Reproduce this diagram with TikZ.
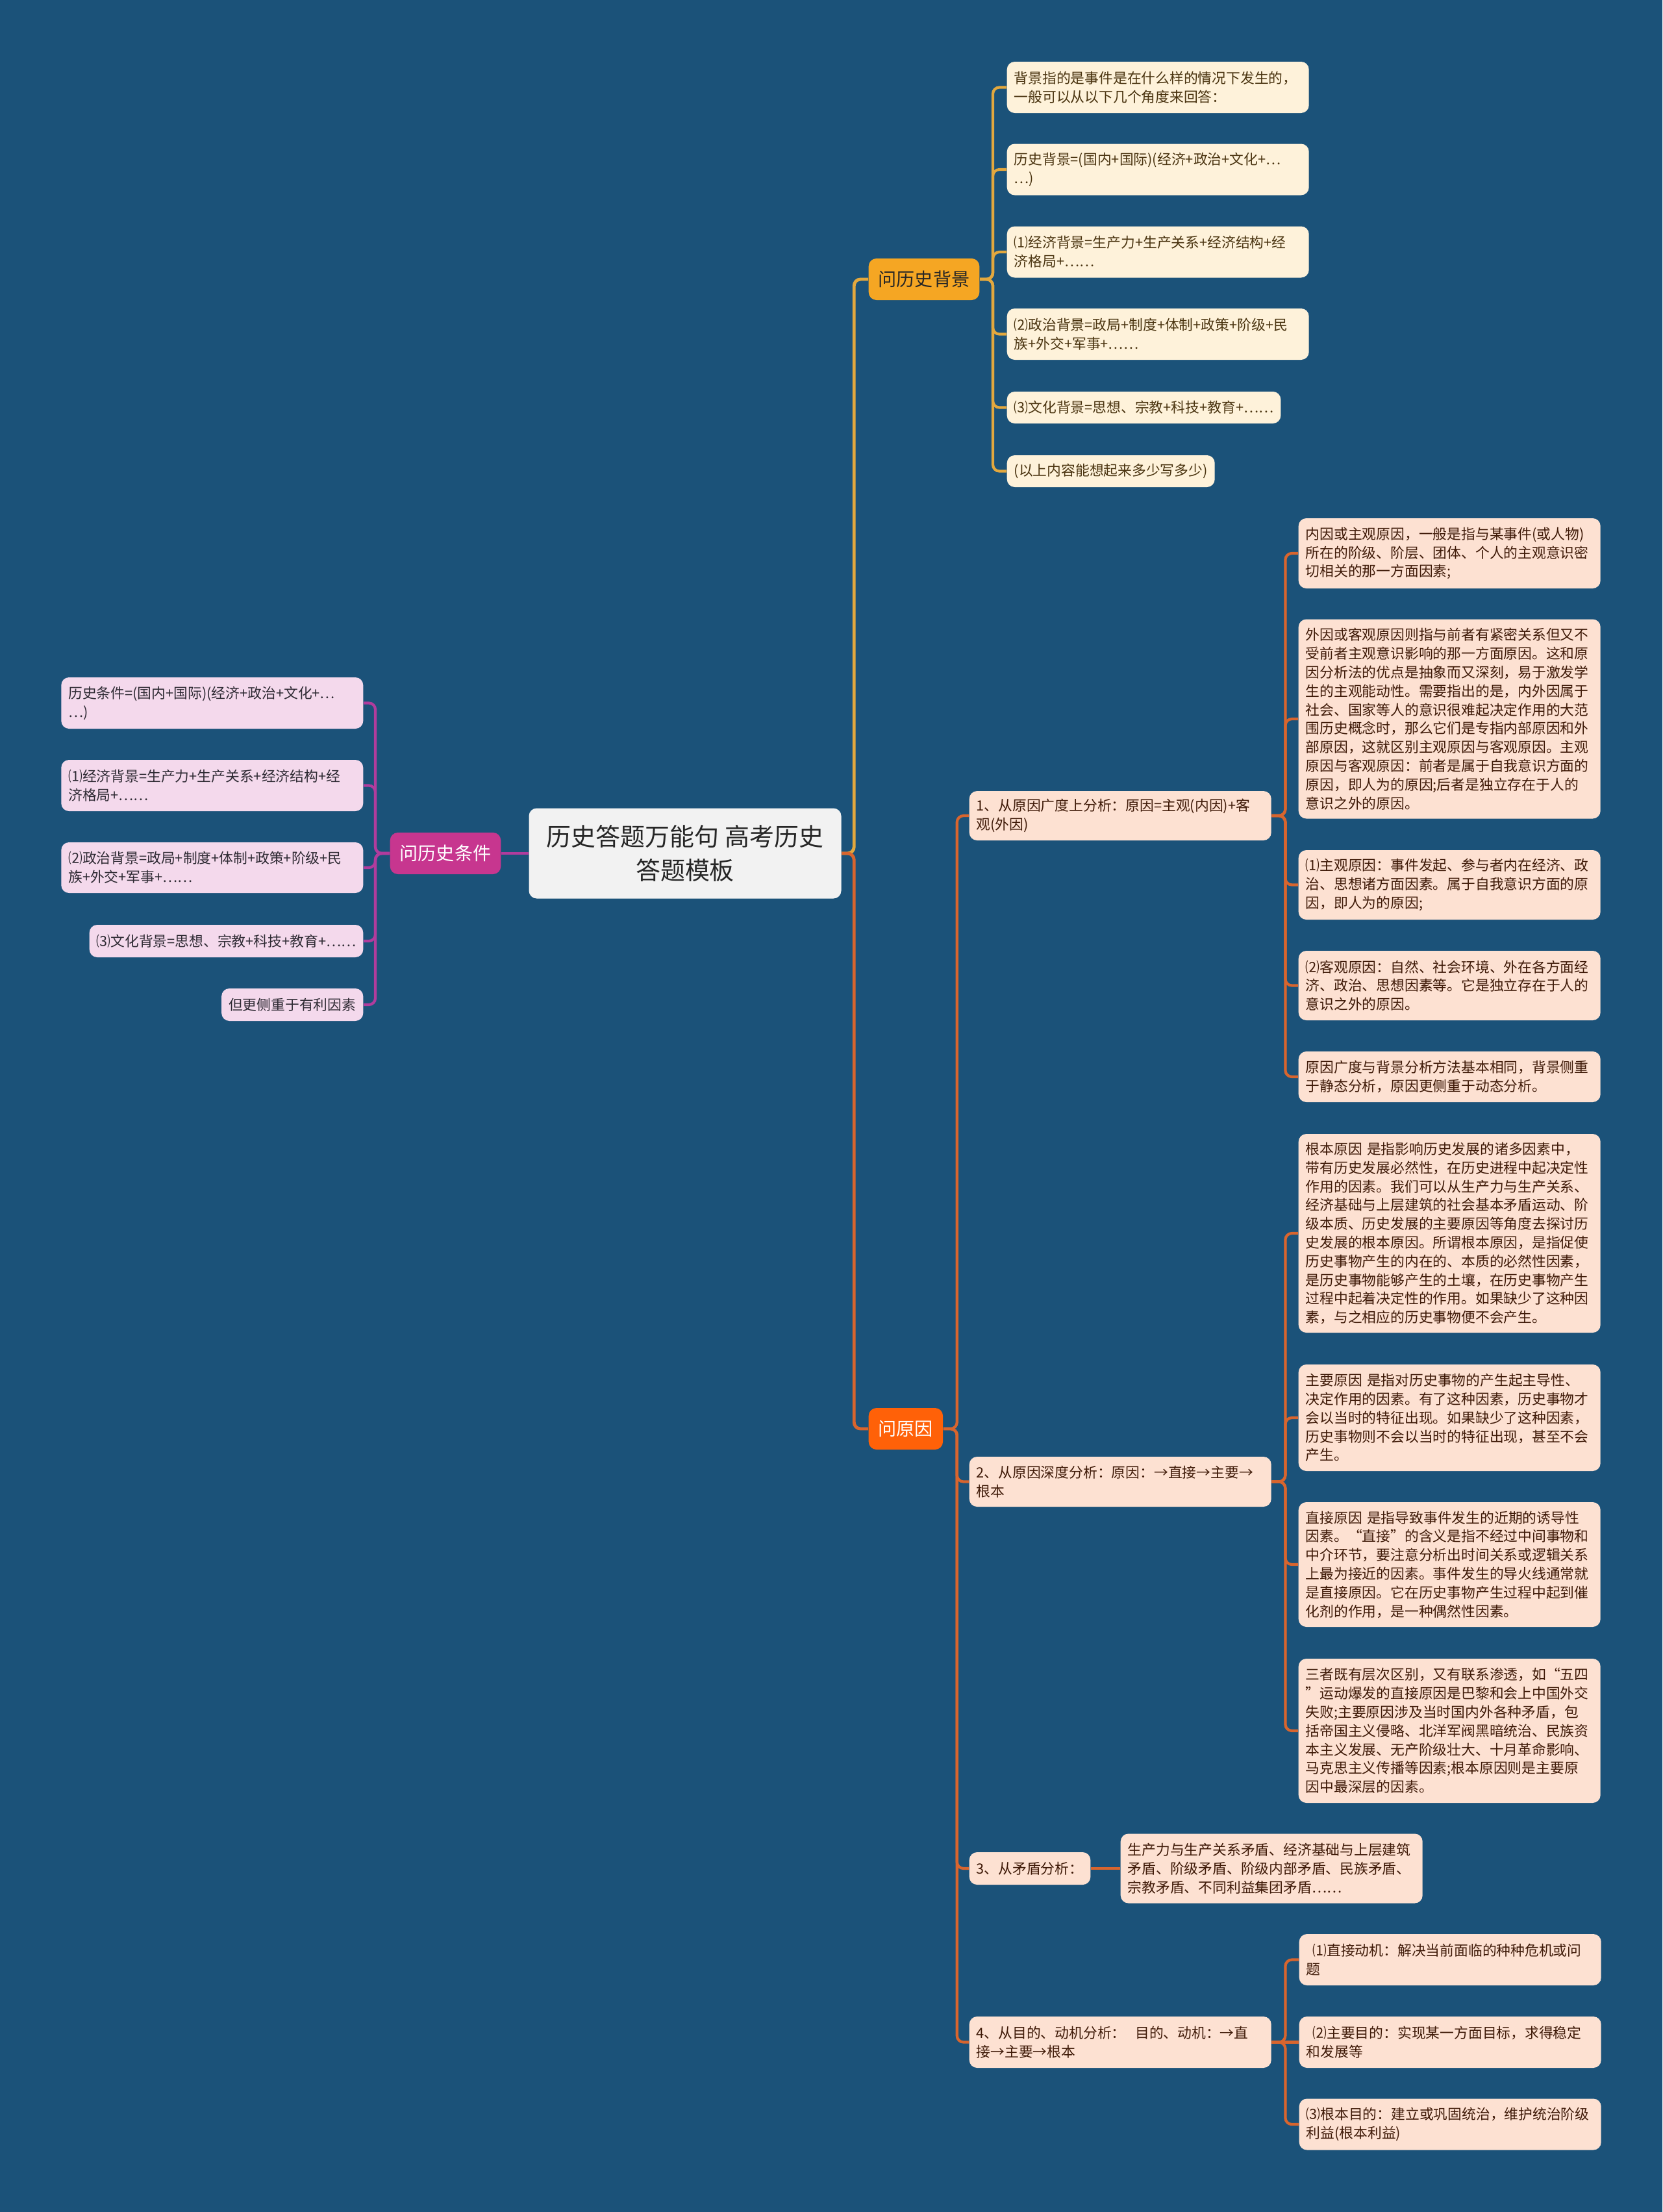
\documentclass[tikz,border=0pt]{standalone}
\usepackage{fontspec}
\setmainfont{Noto Sans CJK SC}
\definecolor{htbg}{HTML}{1B5279}
\definecolor{htroot}{HTML}{F2F2F2}
\definecolor{htdark}{HTML}{262626}
\definecolor{htgold}{HTML}{F5A623}
\definecolor{htgoldline}{HTML}{E3A83E}
\definecolor{htcream}{HTML}{FEF2DA}
\definecolor{htbrown}{HTML}{4A3410}
\definecolor{htorange}{HTML}{FF6108}
\definecolor{htorangeline}{HTML}{D8652E}
\definecolor{htpeach}{HTML}{FDE1D2}
\definecolor{htrust}{HTML}{3F1A08}
\definecolor{htmagenta}{HTML}{C7368F}
\definecolor{htmagentaline}{HTML}{B13C9D}
\definecolor{htpink}{HTML}{F4D9EC}
\definecolor{htink}{HTML}{2E2A33}

\begin{document}
\begin{tikzpicture}[
    x=1cm,
    y=1cm,
    root/.style={rectangle, rounded corners=1.2mm, fill=htroot, text=htdark, minimum width=4.81cm, minimum height=1.39cm, align=center, font=\fontsize{10.8pt}{14.8pt}\selectfont},
    topic/.style={rectangle, rounded corners=1.2mm, minimum height=0.64cm, inner xsep=1.5mm, font=\fontsize{8pt}{10pt}\selectfont},
    leaf/.style={rectangle, rounded corners=1.2mm, inner xsep=1.1mm, inner ysep=0.6mm, align=left, font=\fontsize{6.2pt}{8.2pt}\selectfont},
    wide/.style={text width=4.43cm},
    bgleaf/.style={leaf, fill=htcream, text=htbrown},
    yyleaf/.style={leaf, fill=htpeach, text=htrust},
    tjleaf/.style={leaf, fill=htpink, text=htink},
    bgedge/.style={draw=htgoldline, line width=1.2pt, rounded corners=1mm},
    yyedge/.style={draw=htorangeline, line width=1.2pt, rounded corners=1mm},
    tjedge/.style={draw=htmagentaline, line width=1.2pt, rounded corners=1mm}
  ]
    \fill[htbg] (0,0) rectangle (25.60,-34.06);
    \useasboundingbox (0,0) rectangle (25.60,-34.06);

    \node[root] (root) at (10.55,-13.14) {历史答题万能句 高考历史\\答题模板};

    \node[topic, anchor=west, fill=htgold, text=htdark] (bg) at (13.37,-4.30) {问历史背景};
    \node[topic, anchor=west, fill=htorange, text=white] (yy) at (13.37,-22.00) {问原因};
    \node[topic, anchor=east, fill=htmagenta, text=white] (tj) at (7.72,-13.14) {问历史条件};

    \node[bgleaf, wide, anchor=west, minimum height=7.9mm] (bg1) at (15.50,-1.345) {背景指的是事件是在什么样的情况下发生的，\\一般可以从以下几个角度来回答：};
    \node[bgleaf, wide, anchor=west, minimum height=7.9mm] (bg2) at (15.50,-2.61) {历史背景=(国内+国际)(经济+政治+文化+…\\…)};
    \node[bgleaf, wide, anchor=west, minimum height=7.9mm] (bg3) at (15.50,-3.88) {⑴经济背景=生产力+生产关系+经济结构+经\\济格局+……};
    \node[bgleaf, wide, anchor=west, minimum height=7.9mm] (bg4) at (15.50,-5.145) {⑵政治背景=政局+制度+体制+政策+阶级+民\\族+外交+军事+……};
    \node[bgleaf, anchor=west, minimum height=4.9mm] (bg5) at (15.50,-6.275) {⑶文化背景=思想、宗教+科技+教育+……};
    \node[bgleaf, anchor=west, minimum height=4.9mm] (bg6) at (15.50,-7.255) {(以上内容能想起来多少写多少)};

    \node[yyleaf, wide, anchor=west, minimum height=7.6mm] (r1) at (14.92,-12.56) {1、从原因广度上分析：原因=主观(内因)+客\\观(外因)};
    \node[yyleaf, wide, anchor=west, minimum height=7.7mm] (r2) at (14.92,-22.815) {2、从原因深度分析：原因：→直接→主要→\\根本};
    \node[yyleaf, anchor=west, minimum height=5.0mm] (r3) at (14.92,-28.77) {3、从矛盾分析：};
    \node[yyleaf, wide, anchor=west, minimum height=7.9mm] (r4) at (14.92,-31.445) {4、从目的、动机分析：~~目的、动机：→直\\接→主要→根本};

    \node[yyleaf, wide, anchor=west, minimum height=10.8mm] (ra1) at (19.99,-8.52) {内因或主观原因，一般是指与某事件(或人物)\\所在的阶级、阶层、团体、个人的主观意识密\\切相关的那一方面因素;};
    \node[yyleaf, wide, anchor=west, minimum height=30.7mm] (ra2) at (19.99,-11.07) {外因或客观原因则指与前者有紧密关系但又不\\受前者主观意识影响的那一方面原因。这和原\\因分析法的优点是抽象而又深刻，易于激发学\\生的主观能动性。需要指出的是，内外因属于\\社会、国家等人的意识很难起决定作用的大范\\围历史概念时，那么它们是专指内部原因和外\\部原因，这就区别主观原因与客观原因。主观\\原因与客观原因：前者是属于自我意识方面的\\原因，即人为的原因;后者是独立存在于人的\\意识之外的原因。};
    \node[yyleaf, wide, anchor=west, minimum height=10.7mm] (ra3) at (19.99,-13.625) {⑴主观原因：事件发起、参与者内在经济、政\\治、思想诸方面因素。属于自我意识方面的原\\因，即人为的原因;};
    \node[yyleaf, wide, anchor=west, minimum height=10.7mm] (ra4) at (19.99,-15.175) {⑵客观原因：自然、社会环境、外在各方面经\\济、政治、思想因素等。它是独立存在于人的\\意识之外的原因。};
    \node[yyleaf, wide, anchor=west, minimum height=7.8mm] (ra5) at (19.99,-16.58) {原因广度与背景分析方法基本相同，背景侧重\\于静态分析，原因更侧重于动态分析。};

    \node[yyleaf, wide, anchor=west, minimum height=30.6mm] (rb1) at (19.99,-18.99) {根本原因~是指影响历史发展的诸多因素中，\\带有历史发展必然性，在历史进程中起决定性\\作用的因素。我们可以从生产力与生产关系、\\经济基础与上层建筑的社会基本矛盾运动、阶\\级本质、历史发展的主要原因等角度去探讨历\\史发展的根本原因。所谓根本原因，是指促使\\历史事物产生的内在的、本质的必然性因素，\\是历史事物能够产生的土壤，在历史事物产生\\过程中起着决定性的作用。如果缺少了这种因\\素，与之相应的历史事物便不会产生。};
    \node[yyleaf, wide, anchor=west, minimum height=16.4mm] (rb2) at (19.99,-21.83) {主要原因~是指对历史事物的产生起主导性、\\决定作用的因素。有了这种因素，历史事物才\\会以当时的特征出现。如果缺少了这种因素，\\历史事物则不会以当时的特征出现，甚至不会\\产生。};
    \node[yyleaf, wide, anchor=west, minimum height=19.2mm] (rb3) at (19.99,-24.09) {直接原因~是指导致事件发生的近期的诱导性\\因素。“直接”的含义是指不经过中间事物和\\中介环节，要注意分析出时间关系或逻辑关系\\上最为接近的因素。事件发生的导火线通常就\\是直接原因。它在历史事物产生过程中起到催\\化剂的作用，是一种偶然性因素。};
    \node[yyleaf, wide, anchor=west, minimum height=22.2mm] (rb4) at (19.99,-26.65) {三者既有层次区别，又有联系渗透，如“五四\\”运动爆发的直接原因是巴黎和会上中国外交\\失败;主要原因涉及当时国内外各种矛盾，包\\括帝国主义侵略、北洋军阀黑暗统治、民族资\\本主义发展、无产阶级壮大、十月革命影响、\\马克思主义传播等因素;根本原因则是主要原\\因中最深层的因素。};

    \node[yyleaf, wide, anchor=west, minimum height=10.7mm] (rc1) at (17.25,-28.77) {生产力与生产关系矛盾、经济基础与上层建筑\\矛盾、阶级矛盾、阶级内部矛盾、民族矛盾、\\宗教矛盾、不同利益集团矛盾……};

    \node[yyleaf, wide, anchor=west, minimum height=7.9mm] (rd1) at (20.00,-30.175) {\hspace{0.45em}⑴直接动机：解决当前面临的种种危机或问\\题};
    \node[yyleaf, wide, anchor=west, minimum height=7.9mm] (rd2) at (20.00,-31.445) {\hspace{0.45em}⑵主要目的：实现某一方面目标，求得稳定\\和发展等};
    \node[yyleaf, wide, anchor=west, minimum height=7.9mm] (rd3) at (20.00,-32.71) {⑶根本目的：建立或巩固统治，维护统治阶级\\利益(根本利益)};

    \node[tjleaf, wide, anchor=east, minimum height=7.9mm] (tj1) at (5.60,-10.825) {历史条件=(国内+国际)(经济+政治+文化+…\\…)};
    \node[tjleaf, wide, anchor=east, minimum height=7.9mm] (tj2) at (5.60,-12.095) {⑴经济背景=生产力+生产关系+经济结构+经\\济格局+……};
    \node[tjleaf, wide, anchor=east, minimum height=7.8mm] (tj3) at (5.60,-13.36) {⑵政治背景=政局+制度+体制+政策+阶级+民\\族+外交+军事+……};
    \node[tjleaf, anchor=east, minimum height=5.0mm] (tj4) at (5.60,-14.49) {⑶文化背景=思想、宗教+科技+教育+……};
    \node[tjleaf, anchor=east, minimum height=5.0mm] (tj5) at (5.60,-15.47) {但更侧重于有利因素};

    \draw[bgedge, line width=1.4pt] (root.east) -- ++(0.19,0) |- (bg.west);
    \draw[yyedge, line width=1.4pt] (root.east) -- ++(0.19,0) |- (yy.west);
    \draw[tjedge, line width=1.4pt] (root.west) -- (tj.east);

    \draw[bgedge] (bg.east) -- ++(0.2,0) |- (bg1.west);
    \draw[bgedge] (bg.east) -- ++(0.2,0) |- (bg2.west);
    \draw[bgedge] (bg.east) -- ++(0.2,0) |- (bg3.west);
    \draw[bgedge] (bg.east) -- ++(0.2,0) |- (bg4.west);
    \draw[bgedge] (bg.east) -- ++(0.2,0) |- (bg5.west);
    \draw[bgedge] (bg.east) -- ++(0.2,0) |- (bg6.west);

    \draw[yyedge] (yy.east) -- ++(0.21,0) |- (r1.west);
    \draw[yyedge] (yy.east) -- ++(0.21,0) |- (r2.west);
    \draw[yyedge] (yy.east) -- ++(0.21,0) |- (r3.west);
    \draw[yyedge] (yy.east) -- ++(0.21,0) |- (r4.west);

    \draw[yyedge] (r1.east) -- ++(0.21,0) |- (ra1.west);
    \draw[yyedge] (r1.east) -- ++(0.21,0) |- (ra2.west);
    \draw[yyedge] (r1.east) -- ++(0.21,0) |- (ra3.west);
    \draw[yyedge] (r1.east) -- ++(0.21,0) |- (ra4.west);
    \draw[yyedge] (r1.east) -- ++(0.21,0) |- (ra5.west);

    \draw[yyedge] (r2.east) -- ++(0.21,0) |- (rb1.west);
    \draw[yyedge] (r2.east) -- ++(0.21,0) |- (rb2.west);
    \draw[yyedge] (r2.east) -- ++(0.21,0) |- (rb3.west);
    \draw[yyedge] (r2.east) -- ++(0.21,0) |- (rb4.west);

    \draw[yyedge] (r3.east) -- (rc1.west);

    \draw[yyedge] (r4.east) -- ++(0.21,0) |- (rd1.west);
    \draw[yyedge] (r4.east) -- (rd2.west);
    \draw[yyedge] (r4.east) -- ++(0.21,0) |- (rd3.west);

    \draw[tjedge] (tj.west) -- ++(-0.22,0) |- (tj1.east);
    \draw[tjedge] (tj.west) -- ++(-0.22,0) |- (tj2.east);
    \draw[tjedge] (tj.west) -- ++(-0.22,0) |- (tj3.east);
    \draw[tjedge] (tj.west) -- ++(-0.22,0) |- (tj4.east);
    \draw[tjedge] (tj.west) -- ++(-0.22,0) |- (tj5.east);
  \end{tikzpicture}
\end{document}
